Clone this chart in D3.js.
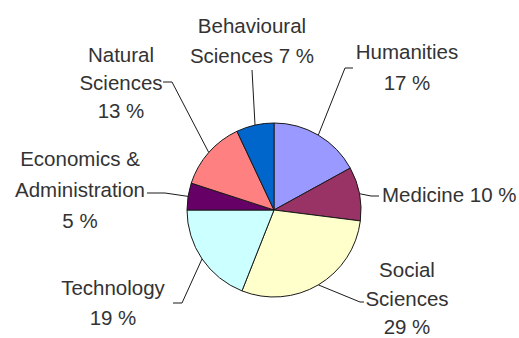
<!DOCTYPE html>
<meta charset="utf-8">
<head>
    <title>Share of fields</title>
    <script src="https://d3js.org/d3.v7.min.js"></script>
</head>
<style>
    body {
        margin: 0;
        background-color: #fff;
    }
    .slice {
        stroke: #1a1a1a;
        stroke-width: 1px;
    }
    .leader {
        fill: none;
        stroke: #1a1a1a;
        stroke-width: 1px;
    }
    .label {
        font: 20.5px "Liberation Sans", Arial, sans-serif;
        fill: #333;
    }
</style>
<body>
<svg width="519" height="338"></svg>
<script>
    // data
    var categories = ["Humanities", "Medicine", "Social Sciences", "Technology",
        "Economics & Administration", "Natural Sciences", "Behavioural Sciences"];
    var shares = [17, 10, 29, 19, 5, 13, 7];
    var colors = ["#9999FF", "#993366", "#FFFFCC", "#CCFFFF", "#660066", "#FF8080", "#0066CC"];
    var labelLines = [
        ["Humanities", "17 %"],
        ["Medicine 10 %"],
        ["Social", "Sciences", "29 %"],
        ["Technology", "19 %"],
        ["Economics &", "Administration", "5 %"],
        ["Natural", "Sciences", "13 %"],
        ["Behavioural", "Sciences 7 %"]
    ];

    // layout of labels and leader lines (picked by hand, like Excel does)
    var labelLayout = [
        {x: 407, y: 59, lh: 31, anchor: "middle", leader: [[345, 68], [353, 68]]},
        {x: 382, y: 202, lh: 30, anchor: "start", leader: [[371, 196], [379, 196]]},
        {x: 407, y: 277, lh: 28.5, anchor: "middle", leader: [[360, 302], [364, 302]]},
        {x: 113, y: 295, lh: 30, anchor: "middle", leader: [[182, 303], [173, 303]]},
        {x: 80, y: 166, lh: 31, anchor: "middle", leader: [[165, 193], [147, 193]]},
        {x: 121, y: 62, lh: 28, anchor: "middle", leader: [[172, 82], [163, 82]]},
        {x: 252, y: 33, lh: 30, anchor: "middle", leader: [[252, 70]]}
    ];

    var svg = d3.select("svg"),
        cx = 274, cy = 210, radius = 87;

    var pie = d3.pie().sort(null).value(function(d) { return d; });
    var arc = d3.arc().innerRadius(0).outerRadius(radius);
    var edge = d3.arc().innerRadius(radius).outerRadius(radius);

    var arcs = pie(shares);

    var g = svg.append("g")
        .attr("transform", "translate(" + cx + "," + cy + ")");

    g.selectAll(".slice")
        .data(arcs)
        .enter().append("path")
        .attr("class", "slice")
        .attr("d", arc)
        .attr("fill", function(d, i) { return colors[i]; });

    // leader lines from slice edge to label
    var line = d3.line();
    svg.selectAll(".leader")
        .data(arcs)
        .enter().append("path")
        .attr("class", "leader")
        .attr("d", function(d, i) {
            var c = edge.centroid(d);
            var pts = [[cx + c[0], cy + c[1]]].concat(labelLayout[i].leader);
            return line(pts);
        });

    // labels
    svg.selectAll(".label")
        .data(labelLines)
        .enter().append("text")
        .attr("class", "label")
        .attr("text-anchor", function(d, i) { return labelLayout[i].anchor; })
        .each(function(d, i) {
            var L = labelLayout[i];
            d3.select(this).selectAll("tspan")
                .data(d)
                .enter().append("tspan")
                .attr("x", L.x)
                .attr("y", function(t, j) { return L.y + j * L.lh; })
                .text(function(t) { return t; });
        });
</script>
</body>
